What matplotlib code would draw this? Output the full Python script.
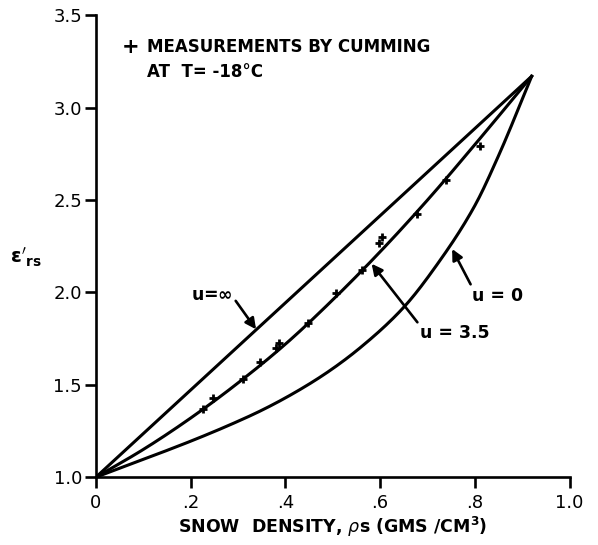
import numpy as np
import matplotlib
matplotlib.use("Agg")
import matplotlib.pyplot as plt

# Relative permittivity of dry snow versus density
rho_inf = [0.0, 0.92]
eps_inf = [1.0, 3.17]

rho_35 = [0.0, 0.1, 0.2, 0.3, 0.4, 0.5, 0.6, 0.7, 0.8, 0.92]
eps_35 = [1.0, 1.15, 1.32, 1.51, 1.72, 1.96, 2.22, 2.50, 2.80, 3.17]

rho_0 = [0.0, 0.07, 0.14, 0.21, 0.28, 0.35, 0.42, 0.49, 0.56, 0.65, 0.72, 0.80, 0.85, 0.92]
eps_0 = [1.0, 1.068, 1.135, 1.205, 1.28, 1.362, 1.458, 1.57, 1.705, 1.92, 2.15, 2.47, 2.74, 3.17]

# Cumming's measurements at -18 C
meas_rho = [0.226, 0.247, 0.310, 0.346, 0.380, 0.386, 0.447, 0.506, 0.561, 0.597, 0.603, 0.677, 0.738, 0.810]
meas_eps = [1.368, 1.427, 1.530, 1.622, 1.700, 1.728, 1.832, 1.995, 2.119, 2.265, 2.300, 2.427, 2.611, 2.795]

x_ticks = [0, 0.2, 0.4, 0.6, 0.8, 1.0]
x_tick_labels = ["0", ".2", ".4", ".6", ".8", "1.0"]
y_ticks = [1.0, 1.5, 2.0, 2.5, 3.0, 3.5]
y_tick_labels = ["1.0", "1.5", "2.0", "2.5", "3.0", "3.5"]


def smooth(x, y, n=300):
    """Monotone cubic Hermite curve through the given points."""
    x = np.asarray(x, float)
    y = np.asarray(y, float)
    h = np.diff(x)
    d = np.diff(y) / h
    m = np.zeros_like(y)
    m[0], m[-1] = d[0], d[-1]
    for i in range(1, len(x) - 1):
        if d[i - 1] * d[i] > 0:
            w1 = 2 * h[i] + h[i - 1]
            w2 = h[i] + 2 * h[i - 1]
            m[i] = (w1 + w2) / (w1 / d[i - 1] + w2 / d[i])
    xs = np.linspace(x[0], x[-1], n)
    idx = np.clip(np.searchsorted(x, xs) - 1, 0, len(x) - 2)
    t = (xs - x[idx]) / h[idx]
    h00 = 2 * t**3 - 3 * t**2 + 1
    h10 = t**3 - 2 * t**2 + t
    h01 = -2 * t**3 + 3 * t**2
    h11 = t**3 - t**2
    ys = h00 * y[idx] + h10 * h[idx] * m[idx] + h01 * y[idx + 1] + h11 * h[idx] * m[idx + 1]
    return xs, ys


fig = plt.figure(figsize=(5.98, 5.45), dpi=100)
ax = fig.add_axes([0.1605, 0.1245, 0.792, 0.8475])

lw = 2.2
ax.plot(rho_inf, eps_inf, color="black", lw=lw, solid_capstyle="round")
ax.plot(*smooth(rho_35, eps_35), color="black", lw=lw)
ax.plot(*smooth(rho_0, eps_0), color="black", lw=lw)
ax.plot(meas_rho, meas_eps, linestyle="none", marker="+", markersize=6,
        markeredgewidth=2.0, color="black")

ax.set_xlim(0, 1.0)
ax.set_ylim(1.0, 3.5)
for side in ("top", "right"):
    ax.spines[side].set_visible(False)
for side in ("left", "bottom"):
    ax.spines[side].set_linewidth(1.9)

ax.set_xticks(x_ticks)
ax.set_xticklabels(x_tick_labels)
ax.set_yticks(y_ticks)
ax.set_yticklabels(y_tick_labels)
ax.tick_params(axis="both", direction="out", length=8, width=1.9,
               labelsize=13, color="black")
ax.tick_params(axis="y", pad=2)
ax.tick_params(axis="x", pad=4)

ax.set_xlabel(r"SNOW  DENSITY, $\rho$s (GMS /CM$^{\mathbf{3}}$)",
              fontsize=12.5, fontweight="bold", labelpad=2)
fig.text(0.043, 0.527, r"$\mathbf{\epsilon'_{rs}}$", fontsize=14,
         ha="center", va="center")

# Legend note
ax.text(0.055, 3.33, "+", fontsize=15, fontweight="bold", va="center", ha="left")
ax.text(0.107, 3.33, "MEASUREMENTS BY CUMMING", fontsize=12, fontweight="bold",
        va="center", ha="left")
ax.text(0.107, 3.195, "AT  T= -18\u00b0C", fontsize=12, fontweight="bold",
        va="center", ha="left")

arrow = dict(arrowstyle="-|>", lw=1.9, color="black", mutation_scale=16,
             shrinkA=0, shrinkB=0)
ax.annotate(r"u=$\mathbf{\infty}$", xy=(0.338, 1.80), xytext=(0.245, 1.985),
            fontsize=12.5, fontweight="bold", ha="center", va="center",
            arrowprops=dict(arrow, relpos=(1.0, 0.4)))
ax.annotate("u = 3.5", xy=(0.582, 2.155), xytext=(0.758, 1.78),
            fontsize=12.5, fontweight="bold", ha="center", va="center",
            arrowprops=dict(arrow, relpos=(0.0, 0.9)))
ax.annotate("u = 0", xy=(0.752, 2.235), xytext=(0.848, 1.98),
            fontsize=12.5, fontweight="bold", ha="center", va="center",
            arrowprops=dict(arrow, relpos=(0.0, 1.0)))

fig.savefig("out.png", dpi=100, facecolor="white")
